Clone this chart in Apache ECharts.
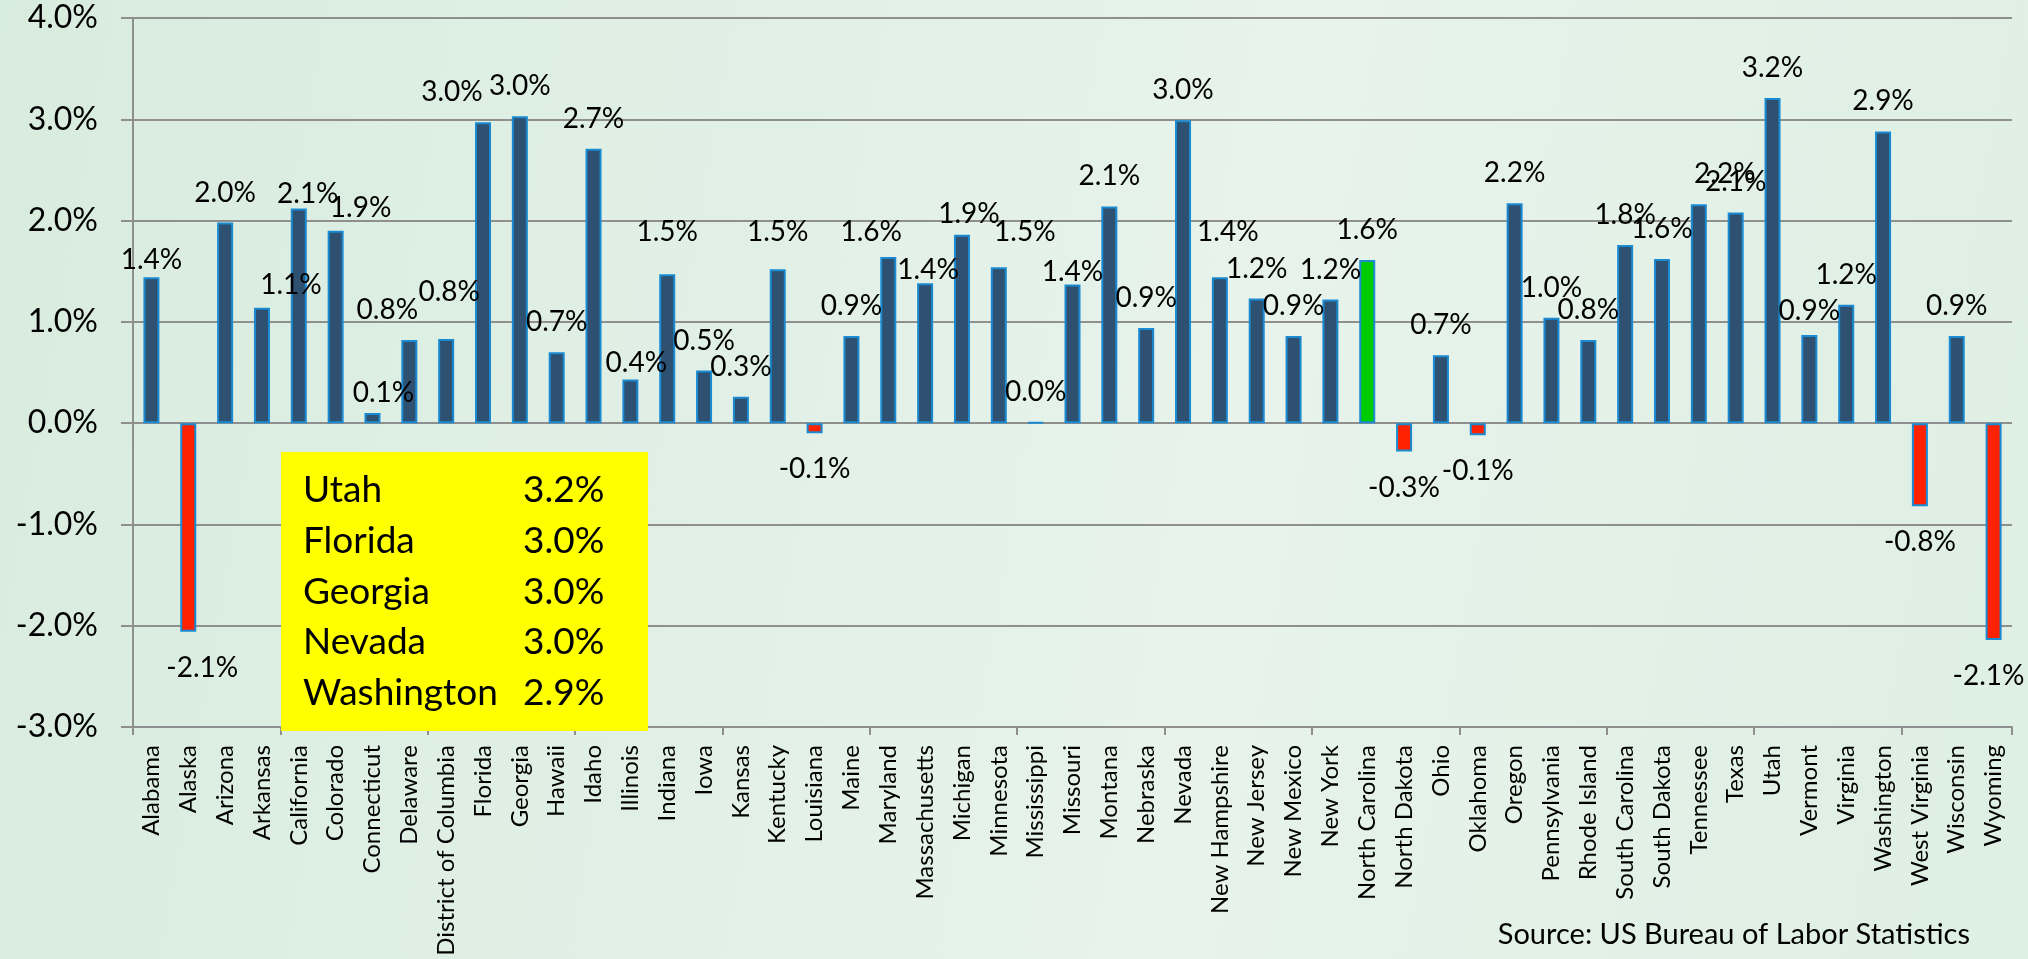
<!DOCTYPE html>
<html>
<head>
<meta charset="utf-8">
<script src="https://cdn.jsdelivr.net/npm/echarts@6/dist/echarts.min.js"></script>
<style>
  html, body { margin: 0; padding: 0; }
  #chart {
    width: 2028px;
    height: 959px;
    background: linear-gradient(100deg, #d8ecde 0%, #e1f0e6 35%, #e7f3eb 60%, #deefe3 100%);
  }
</style>
</head>
<body>
<div id="chart"></div>
<script>
// Job growth by state, year over year (%)
const STATES = [
  'Alabama', 'Alaska', 'Arizona', 'Arkansas', 'California', 'Colorado', 'Connecticut',
  'Delaware', 'District of Columbia', 'Florida', 'Georgia', 'Hawaii', 'Idaho', 'Illinois',
  'Indiana', 'Iowa', 'Kansas', 'Kentucky', 'Louisiana', 'Maine', 'Maryland', 'Massachusetts',
  'Michigan', 'Minnesota', 'Mississippi', 'Missouri', 'Montana', 'Nebraska', 'Nevada',
  'New Hampshire', 'New Jersey', 'New Mexico', 'New York', 'North Carolina', 'North Dakota',
  'Ohio', 'Oklahoma', 'Oregon', 'Pennsylvania', 'Rhode Island', 'South Carolina',
  'South Dakota', 'Tennessee', 'Texas', 'Utah', 'Vermont', 'Virginia', 'Washington',
  'West Virginia', 'Wisconsin', 'Wyoming'
];
const CHANGE = [
  1.44, -2.06, 1.98, 1.14, 2.12, 1.90, 0.10,
  0.82, 0.83, 2.97, 3.03, 0.70, 2.71, 0.43,
  1.47, 0.52, 0.26, 1.52, -0.10, 0.86, 1.64, 1.38,
  1.86, 1.54, 0.01, 1.37, 2.14, 0.94, 2.99,
  1.44, 1.23, 0.86, 1.22, 1.61, -0.28,
  0.67, -0.12, 2.17, 1.04, 0.82, 1.76,
  1.62, 2.16, 2.08, 3.21, 0.87, 1.17, 2.88,
  -0.82, 0.86, -2.14
];
const HIGHLIGHT = 'North Carolina';
const SOURCE = 'Source: US Bureau of Labor Statistics';
const Y_MIN = -3, Y_MAX = 4, Y_STEP = 1;

// labels the original had dragged off their bars: [dx, dy] in px
const LABEL_NUDGE = {
  'Alabama': [0, 13], 'Alaska': [14, 0], 'Arkansas': [29, 7], 'California': [9, 16],
  'Colorado': [25, 7], 'Connecticut': [11, 10], 'Delaware': [-22, 0],
  'District of Columbia': [3, -17], 'Florida': [-31, 0], 'Illinois': [6, 13],
  'Indiana': [0, -12], 'Kentucky': [0, -7], 'Maryland': [-17, 5], 'Massachusetts': [3, 17],
  'Michigan': [7, 9], 'Minnesota': [26, -5], 'Missouri': [0, 18], 'New Hampshire': [8, -15],
  'Tennessee': [26, 0], 'Vermont': [0, 6], 'Wyoming': [-5, 0]
};

const FONT = 'Lato, "Noto Sans", sans-serif';
const NAVY = '#2e5071', EDGE = '#1a8bd2', RED = '#ff2200', GREEN = '#00cc00';
const AXIS_GRAY = '#8f8f8f';
const pct = v => v.toFixed(1) + '%';

const bars = CHANGE.map((v, i) => {
  const name = STATES[i];
  const neg = v < 0;
  return {
    value: v,
    itemStyle: { color: neg ? RED : name === HIGHLIGHT ? GREEN : NAVY },
    label: {
      position: neg ? 'bottom' : 'top',
      distance: neg ? 22 : 16,
      offset: LABEL_NUDGE[name] || [0, 0]
    }
  };
});

// top five for the call-out box (ties on the shown value go alphabetical)
const topFive = STATES.map((s, i) => ({ s, r: Math.round(CHANGE[i] * 10) / 10 }))
  .sort((a, b) => b.r - a.r || a.s.localeCompare(b.s))
  .slice(0, 5);

const boxTexts = [];
topFive.forEach((t, k) => {
  const y = 490 + k * 50.8;
  boxTexts.push({
    type: 'text', x: 303, y, z: 11,
    style: { text: t.s, fontFamily: FONT, fontSize: 37, fill: '#000', verticalAlign: 'middle' }
  });
  boxTexts.push({
    type: 'text', x: 523, y, z: 11,
    style: { text: pct(t.r), fontFamily: FONT, fontSize: 37, fill: '#000', verticalAlign: 'middle' }
  });
});

const chart = echarts.init(document.getElementById('chart'));
chart.setOption({
  animation: false,
  grid: { left: 133, right: 16, top: 18, bottom: 232 },
  xAxis: [
    {
      type: 'category',
      data: STATES,
      axisLine: { show: false },
      axisTick: { show: false },
      axisLabel: {
        rotate: 90, interval: 0, margin: 18,
        fontFamily: FONT, fontSize: 24, color: '#000'
      }
    },
    {
      type: 'category',
      data: STATES,
      position: 'bottom',
      axisLine: { onZero: true, lineStyle: { color: AXIS_GRAY, width: 2 } },
      axisTick: { show: true, length: 8, lineStyle: { color: AXIS_GRAY, width: 2 } },
      axisLabel: { show: false }
    }
  ],
  yAxis: {
    type: 'value',
    min: Y_MIN, max: Y_MAX, interval: Y_STEP,
    axisLine: { show: true, lineStyle: { color: AXIS_GRAY, width: 2 } },
    axisTick: { show: true, length: 12, lineStyle: { color: AXIS_GRAY, width: 2 } },
    splitLine: { lineStyle: { color: AXIS_GRAY, width: 2 } },
    axisLabel: {
      margin: 35, fontFamily: FONT, fontSize: 32, color: '#000',
      formatter: v => pct(v)
    }
  },
  series: [{
    type: 'bar',
    xAxisIndex: 0,
    data: bars,
    barWidth: 16,
    itemStyle: { borderColor: EDGE, borderWidth: 2 },
    label: {
      show: true,
      fontFamily: FONT, fontSize: 28, lineHeight: 28, color: '#000',
      formatter: p => pct(p.value)
    }
  }],
  graphic: [
    {
      type: 'rect', z: 10,
      shape: { x: 281, y: 452, width: 367, height: 279 },
      style: { fill: '#ffff00' }
    },
    ...boxTexts,
    {
      type: 'text', x: 1970, y: 935, z: 11,
      style: {
        text: SOURCE, fontFamily: FONT, fontSize: 29, fill: '#000',
        align: 'right', verticalAlign: 'middle'
      }
    }
  ]
});
</script>
</body>
</html>
